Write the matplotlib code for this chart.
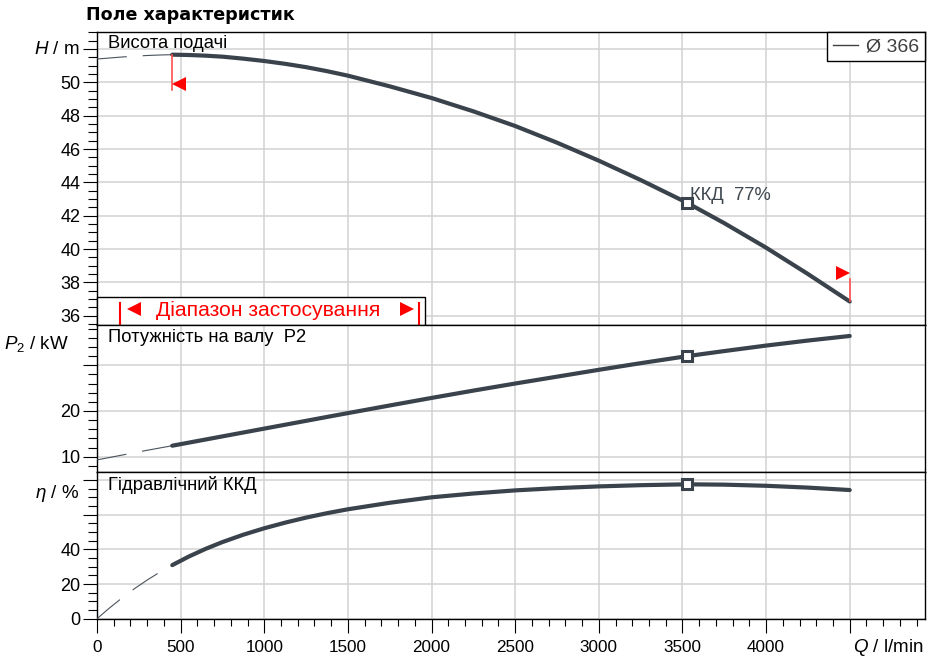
import matplotlib
matplotlib.use("Agg")
import matplotlib.pyplot as plt
from matplotlib.lines import Line2D
from matplotlib.patches import Rectangle
from matplotlib.ticker import FixedLocator, MultipleLocator

plt.rcParams['font.family'] = ['Liberation Sans', 'DejaVu Sans']
plt.rcParams['mathtext.fontset'] = 'custom'
plt.rcParams['mathtext.it'] = 'Liberation Sans:italic'
plt.rcParams['mathtext.rm'] = 'Liberation Sans'
plt.rcParams['lines.scale_dashes'] = False

# ---------------- data ----------------
Q_dash = [0, 75, 150, 225, 300, 375, 450]
H_dash = [51.40, 51.46, 51.52, 51.57, 51.61, 51.64, 51.66]
P_dash = [9.3, 9.82, 10.35, 10.88, 11.4, 11.9, 12.4]
eta_dash = [0.0, 6.2, 12.0, 17.4, 22.3, 26.8, 30.9]

Q = [450, 550, 650, 750, 875, 1000, 1125, 1250, 1375, 1500, 1750, 2000,
     2250, 2500, 2750, 3000, 3250, 3530, 3750, 4000, 4250, 4500]
H = [51.66, 51.64, 51.60, 51.54, 51.42, 51.28, 51.11, 50.91, 50.67, 50.40,
     49.76, 49.06, 48.26, 47.38, 46.38, 45.30, 44.14, 42.76, 41.55, 40.08,
     38.50, 36.85]
P2 = [12.4, 13.08, 13.76, 14.44, 15.29, 16.14, 16.99, 17.84, 18.69, 19.53,
      21.2, 22.85, 24.45, 26.0, 27.5, 29.0, 30.45, 32.0, 33.1, 34.3, 35.4,
      36.4]
eta = [30.9, 35.9, 40.3, 44.2, 48.45, 52.15, 55.4, 58.3, 60.85, 63.1, 66.85,
       70.0, 72.2, 74.0, 75.3, 76.3, 77.0, 77.5, 77.3, 76.65, 75.6, 74.2]

Q_bep = 3530
bep_idx = Q.index(Q_bep)
eta_bep_label = "ККД  77%"
Q_min, Q_max = 450, 4500
legend_label = "Ø 366"

x_ticks = [0, 500, 1000, 1500, 2000, 2500, 3000, 3500, 4000, 4500]
x_ticklabels = ['0', '500', '1000', '1500', '2000', '2500', '3000', '3500', '4000', '']
H_ticks = [36, 38, 40, 42, 44, 46, 48, 50, 52]
H_ticklabels = ['36', '38', '40', '42', '44', '46', '48', '50', '']
P_ticks = [10, 20, 30]
P_ticklabels = ['10', '20', '']
eta_ticks = [0, 20, 40, 60, 80]
eta_ticklabels = ['0', '20', '40', '', '']

# ---------------- style ----------------
curve_c = '#3a434b'
dash_c = '#4a525a'
grid_c = '#d2d2d2'
red = '#ff0000'
lab_fs = 13.2

W, Hpx = 939, 659
fig = plt.figure(figsize=(W / 100, Hpx / 100), dpi=100)
L = 97 / W
Wd = (925 - 97) / W

def fy(py):
    return 1 - py / Hpx

ax1 = fig.add_axes([L, fy(325), Wd, (325 - 32) / Hpx])
ax2 = fig.add_axes([L, fy(472), Wd, (472 - 325) / Hpx], sharex=ax1)
ax3 = fig.add_axes([L, fy(618.7), Wd, (618.7 - 472) / Hpx], sharex=ax1)

ax1.set_xlim(0, 4950)
ax1.set_ylim(35.44, 53.02)
ax2.set_ylim(6.65, 38.8)
ax3.set_ylim(0, 84.6)

for ax in (ax1, ax2, ax3):
    ax.grid(True, which='major', color=grid_c, lw=1.1, zorder=0)
    ax.set_axisbelow(True)
    for s in ax.spines.values():
        s.set_linewidth(1.0)
        s.set_color('black')
    ax.tick_params(axis='y', which='major', direction='out', length=10,
                   width=0.8, labelsize=13, pad=2)
    ax.tick_params(axis='y', which='minor', direction='out', length=6.5,
                   width=0.8)
    ax.xaxis.set_major_locator(FixedLocator(x_ticks))
    ax.xaxis.set_minor_locator(MultipleLocator(100))

for ax in (ax1, ax2):
    ax.tick_params(axis='x', which='both', length=0, labelbottom=False)

ax3.set_xticks(x_ticks)
ax3.set_xticklabels(x_ticklabels)
ax3.tick_params(axis='x', which='major', direction='out', length=10,
                width=0.8, labelsize=12.3, pad=5)
ax3.tick_params(axis='x', which='minor', direction='out', length=5, width=0.8)

ax1.set_yticks(H_ticks)
ax1.set_yticklabels(H_ticklabels)
ax1.yaxis.set_minor_locator(MultipleLocator(0.5))
ax2.set_yticks(P_ticks)
ax2.set_yticklabels(P_ticklabels)
ax2.yaxis.set_minor_locator(MultipleLocator(2))
ax3.set_yticks(eta_ticks)
ax3.set_yticklabels(eta_ticklabels)
ax3.yaxis.set_minor_locator(MultipleLocator(5))

# ---------------- curves ----------------
for ax, yd, y in ((ax1, H_dash, H), (ax2, P_dash, P2), (ax3, eta_dash, eta)):
    ax.plot(Q_dash, yd, color=dash_c, lw=0.8, dashes=(21.5, 11.5), zorder=3,
            solid_capstyle='butt')
    ax.plot(Q, y, color=curve_c, lw=3.0, zorder=4, solid_capstyle='round',
            solid_joinstyle='round')
    ax.plot([Q[bep_idx]], [y[bep_idx]], marker='s', ms=6.5, mew=2.2,
            mec=curve_c, mfc='white', zorder=6, linestyle='none')

ax1.annotate(eta_bep_label, xy=(Q[bep_idx], H[bep_idx]), xytext=(1.5, 2.5),
             textcoords='offset points', ha='left', va='baseline',
             fontsize=lab_fs, color='#3e464e', zorder=7)

# red operating range markers
ax1.plot([Q_min, Q_min], [H[0], 49.55], color='#ff5050', lw=1.2, zorder=5)
ax1.plot([Q_min + 42], [49.92], marker='<', ms=10, mew=0, color=red,
         zorder=6, linestyle='none')
ax1.plot([Q_max, Q_max], [H[-1], 38.2], color='#ff5050', lw=1.2, zorder=5)
ax1.plot([Q_max - 42], [38.57], marker='>', ms=10, mew=0, color=red,
         zorder=6, linestyle='none')

# range box
box = Rectangle((0, 0), (425 - 97) / 828, (325 - 297) / 293,
                transform=ax1.transAxes, fc='white', ec='black', lw=1.0,
                zorder=8, clip_on=False)
ax1.add_patch(box)
ax1.text((268 - 97) / 828, (325 - 310) / 293, "Діапазон застосування",
         transform=ax1.transAxes, ha='center', va='center', fontsize=15.2,
         color=red, zorder=9)
ax1.plot([(133.5 - 97) / 828], [(325 - 309) / 293], marker='<', ms=9.5,
         mew=0, color=red, transform=ax1.transAxes, zorder=9, clip_on=False)
ax1.plot([(406.5 - 97) / 828], [(325 - 309) / 293], marker='>', ms=9.5,
         mew=0, color=red, transform=ax1.transAxes, zorder=9, clip_on=False)
for bx in (120, 418.5):
    ax1.plot([(bx - 97) / 828] * 2, [0, (325 - 303) / 293], color=red, lw=1.5,
             transform=ax1.transAxes, zorder=9, clip_on=False)

# panel labels
ax1.text(0.0133, (325 - 44) / 293, "Висота подачі", transform=ax1.transAxes,
         ha='left', va='center', fontsize=lab_fs, zorder=9)
ax2.text(0.0133, (472 - 337) / 147, "Потужність на валу  P2",
         transform=ax2.transAxes, ha='left', va='center', fontsize=lab_fs,
         zorder=9)
ax3.text(0.0133, (618.7 - 484.5) / 146.7, "Гідравлічний ККД",
         transform=ax3.transAxes, ha='left', va='center', fontsize=lab_fs,
         zorder=9)

# legend
leg = ax1.legend(handles=[Line2D([], [], color='#404040', lw=1.0)],
                 labels=[legend_label], loc='upper right', borderaxespad=0,
                 fancybox=False, edgecolor='black', framealpha=1,
                 handlelength=1.3, handletextpad=0.4, borderpad=0.3,
                 fontsize=14, labelcolor='#404040')
leg.get_frame().set_linewidth(1.0)
leg.set_zorder(10)

# axis labels
fig.text(80 / W, fy(50), r"$\mathit{H}$ / m", ha='right', va='center',
         fontsize=13.5)
fig.text(69 / W, fy(344), r"$\mathit{P}_\mathit{2}$ / kW", ha='right',
         va='center', fontsize=13.5)
fig.text(79 / W, fy(493), r"$\eta$ / %", ha='right', va='center',
         fontsize=13.5)
fig.text(924 / W, fy(648), r"$\mathit{Q}$ / l/min", ha='right', va='center',
         fontsize=13.5)

fig.text(86 / W, fy(15), "Поле характеристик", family='DejaVu Sans',
         fontweight='bold', fontsize=12.6, ha='left', va='center')

fig.savefig("out.png", dpi=100)
